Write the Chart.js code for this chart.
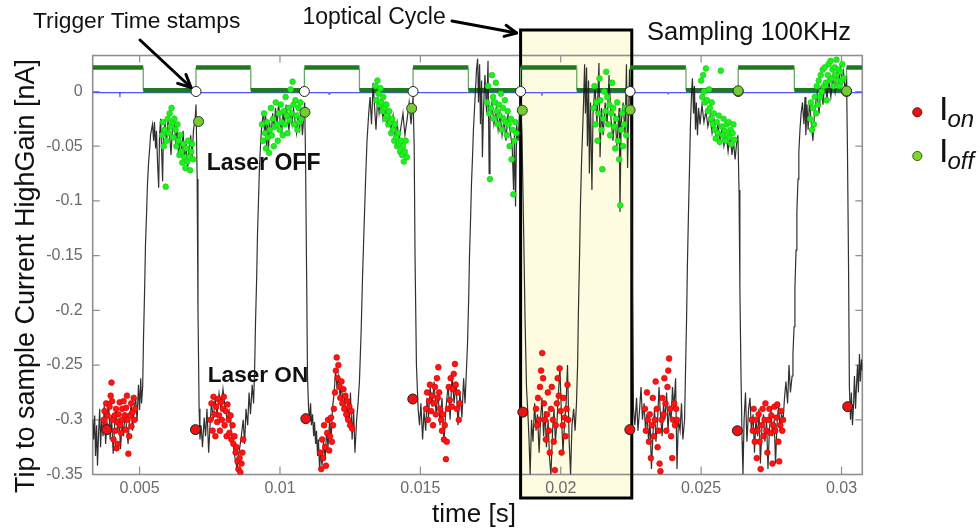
<!DOCTYPE html>
<html>
<head>
<meta charset="utf-8">
<title>Tip to sample current – laser on/off</title>
<script src="https://cdn.jsdelivr.net/npm/chart.js@4.4.0/dist/chart.umd.min.js"></script>
<style>
  html, body { margin: 0; padding: 0; background: #ffffff; }
  #wrap { width: 980px; height: 529px; position: relative; }
</style>
</head>
<body>
<div id="wrap"><canvas id="chart" width="980" height="529"></canvas></div>
<script>
// ---------------------------------------------------------------
// Data: time in seconds, current in nA
// ---------------------------------------------------------------

// Axis ranges and ticks
const xRange = [0.00333, 0.03074];
const yRange = [-0.35, 0.0329];
const xTicks = [0.005, 0.01, 0.015, 0.02, 0.025, 0.03];
const xTickLabels = ['0.005', '0.01', '0.015', '0.02', '0.025', '0.03'];
const yTicks = [0, -0.05, -0.1, -0.15, -0.2, -0.25, -0.3, -0.35];
const yTickLabels = ['0', '-0.05', '-0.1', '-0.15', '-0.2', '-0.25', '-0.3', '-0.35'];

// Tip-sample current, high-gain channel
const signalSamples = [
  [0.00333,-0.300],[0.00336,-0.318],[0.00340,-0.296],[0.00343,-0.333],[0.00347,-0.305],[0.00350,-0.342],[0.00354,-0.312],[0.00358,-0.290],
  [0.00361,-0.325],[0.00365,-0.301],[0.00370,-0.315],[0.00374,-0.287],[0.00379,-0.322],[0.00384,-0.300],[0.00390,-0.283],[0.00395,-0.318],
  [0.00400,-0.296],[0.00406,-0.331],[0.00411,-0.305],[0.00416,-0.289],[0.00422,-0.312],[0.00427,-0.298],[0.00432,-0.327],[0.00438,-0.302],
  [0.00443,-0.315],[0.00448,-0.293],[0.00454,-0.308],[0.00459,-0.322],[0.00464,-0.299],[0.00470,-0.286],[0.00475,-0.310],[0.00480,-0.292],
  [0.00486,-0.279],[0.00491,-0.301],[0.00496,-0.268],[0.00500,-0.291],[0.00504,-0.262],[0.00507,-0.285],
  [0.00511,-0.270],[0.00514,-0.225],[0.00518,-0.180],[0.00521,-0.140],[0.00525,-0.110],[0.00528,-0.085],[0.00532,-0.065],[0.00536,-0.052],
  [0.00539,-0.040],[0.00543,-0.034],[0.00546,-0.030],
  [0.00550,-0.045],[0.00553,-0.028],[0.00557,-0.052],[0.00560,-0.036],[0.00564,-0.065],[0.00568,-0.088],[0.00571,-0.040],[0.00575,-0.025],
  [0.00578,-0.050],[0.00582,-0.082],[0.00585,-0.035],[0.00591,-0.030],[0.00596,-0.047],[0.00601,-0.026],[0.00607,-0.040],[0.00612,-0.058],
  [0.00617,-0.033],[0.00623,-0.022],[0.00628,-0.045],[0.00634,-0.035],[0.00639,-0.060],[0.00644,-0.042],[0.00650,-0.055],[0.00655,-0.036],
  [0.00660,-0.062],[0.00666,-0.048],[0.00671,-0.070],[0.00676,-0.052],[0.00682,-0.040],[0.00687,-0.060],[0.00692,-0.035],[0.00698,-0.025],
  [0.00701,-0.012],
  [0.00705,-0.080],[0.00708,-0.200],[0.00712,-0.290],[0.00715,-0.318],
  [0.00719,-0.305],[0.00724,-0.325],[0.00730,-0.298],[0.00735,-0.315],[0.00740,-0.290],[0.00746,-0.330],[0.00751,-0.305],[0.00756,-0.283],
  [0.00762,-0.300],[0.00769,-0.281],[0.00776,-0.295],[0.00783,-0.276],[0.00790,-0.290],[0.00797,-0.272],[0.00804,-0.288],[0.00812,-0.300],
  [0.00819,-0.292],[0.00826,-0.310],[0.00833,-0.322],[0.00840,-0.335],[0.00847,-0.345],[0.00854,-0.330],[0.00861,-0.318],[0.00869,-0.300],
  [0.00874,-0.322],[0.00879,-0.290],[0.00885,-0.305],[0.00890,-0.275],[0.00895,-0.295],[0.00901,-0.268],[0.00906,-0.285],
  [0.00910,-0.250],[0.00913,-0.210],[0.00917,-0.170],[0.00920,-0.130],[0.00924,-0.095],[0.00927,-0.068],[0.00931,-0.048],[0.00934,-0.035],
  [0.00938,-0.025],[0.00942,-0.018],
  [0.00945,-0.040],[0.00949,-0.022],[0.00952,-0.050],[0.00956,-0.030],[0.00959,-0.055],[0.00963,-0.028],[0.00968,-0.042],[0.00974,-0.020],
  [0.00979,-0.035],[0.00984,-0.015],[0.00990,-0.030],[0.00995,-0.010],[0.01000,-0.025],[0.01006,-0.040],[0.01011,-0.018],[0.01016,-0.030],
  [0.01022,-0.012],[0.01027,-0.025],[0.01032,-0.035],[0.01038,-0.020],[0.01043,-0.030],[0.01048,-0.015],[0.01054,-0.028],[0.01059,-0.038],
  [0.01064,-0.022],[0.01070,-0.034],[0.01075,-0.018],[0.01080,-0.040],[0.01084,-0.025],[0.01088,-0.010],
  [0.01091,-0.060],[0.01095,-0.170],[0.01098,-0.260],[0.01102,-0.290],
  [0.01105,-0.300],[0.01109,-0.285],[0.01112,-0.305],[0.01116,-0.295],[0.01120,-0.315],[0.01123,-0.302],[0.01127,-0.322],[0.01130,-0.310],
  [0.01134,-0.333],[0.01137,-0.318],[0.01141,-0.345],[0.01145,-0.330],[0.01150,-0.342],[0.01155,-0.320],[0.01161,-0.335],[0.01166,-0.310],
  [0.01171,-0.325],[0.01177,-0.300],[0.01182,-0.318],[0.01187,-0.290],[0.01193,-0.275],[0.01198,-0.255],[0.01203,-0.270],[0.01209,-0.260],
  [0.01214,-0.280],[0.01219,-0.268],[0.01225,-0.290],[0.01230,-0.278],[0.01235,-0.300],[0.01241,-0.285],[0.01246,-0.305],[0.01251,-0.275],
  [0.01257,-0.318],[0.01262,-0.290],[0.01267,-0.330],[0.01273,-0.300],[0.01278,-0.285],
  [0.01283,-0.265],[0.01289,-0.220],[0.01294,-0.170],[0.01300,-0.120],[0.01305,-0.080],[0.01310,-0.045],[0.01316,-0.020],
  [0.01321,-0.005],[0.01326,-0.030],[0.01332,0.008],[0.01337,-0.015],[0.01342,-0.035],[0.01348,-0.005],[0.01353,-0.020],[0.01360,-0.008],
  [0.01367,-0.025],[0.01374,-0.012],[0.01381,-0.030],[0.01389,-0.018],[0.01396,-0.035],[0.01403,-0.022],[0.01410,-0.040],[0.01417,-0.028],
  [0.01424,-0.045],[0.01431,-0.032],[0.01438,-0.020],[0.01445,-0.040],[0.01453,-0.025],[0.01460,-0.010],[0.01467,-0.030],[0.01474,-0.005],
  [0.01478,-0.050],[0.01481,-0.150],[0.01486,-0.250],[0.01492,-0.290],
  [0.01497,-0.305],[0.01502,-0.285],[0.01508,-0.318],[0.01513,-0.292],[0.01519,-0.310],[0.01524,-0.280],[0.01529,-0.298],[0.01535,-0.270],
  [0.01542,-0.288],[0.01549,-0.265],[0.01556,-0.295],[0.01563,-0.275],[0.01570,-0.305],[0.01577,-0.280],[0.01584,-0.320],[0.01591,-0.290],
  [0.01599,-0.268],[0.01606,-0.300],[0.01613,-0.258],[0.01620,-0.285],[0.01627,-0.265],[0.01634,-0.305],[0.01641,-0.275],[0.01648,-0.298],
  [0.01654,-0.262],[0.01659,-0.285],[0.01664,-0.255],
  [0.01668,-0.230],[0.01672,-0.190],[0.01675,-0.150],[0.01679,-0.115],[0.01682,-0.085],[0.01686,-0.058],[0.01689,-0.035],[0.01693,-0.015],
  [0.01697,0.005],[0.01700,0.020],
  [0.01704,0.030],[0.01707,-0.010],[0.01711,0.025],[0.01714,-0.030],[0.01718,0.010],[0.01721,-0.060],[0.01725,-0.015],[0.01730,0.015],
  [0.01736,-0.020],[0.01741,0.028],[0.01745,-0.075],[0.01748,-0.025],[0.01755,-0.010],[0.01762,-0.030],[0.01770,-0.015],[0.01777,-0.035],
  [0.01784,-0.020],[0.01791,-0.040],[0.01798,-0.025],[0.01805,-0.045],[0.01812,-0.020],[0.01819,-0.035],[0.01827,-0.050],[0.01832,-0.090],
  [0.01835,-0.040],[0.01839,-0.105],[0.01843,-0.030],[0.01848,-0.045],[0.01853,-0.020],[0.01857,-0.010],
  [0.01862,-0.040],[0.01868,-0.130],[0.01873,-0.210],[0.01878,-0.270],[0.01884,-0.300],
  [0.01887,-0.318],[0.01891,-0.350],[0.01896,-0.300],[0.01901,-0.320],[0.01907,-0.285],[0.01912,-0.310],[0.01917,-0.295],[0.01923,-0.330],
  [0.01928,-0.300],[0.01933,-0.280],[0.01939,-0.315],[0.01944,-0.292],[0.01949,-0.325],[0.01955,-0.300],[0.01960,-0.335],[0.01965,-0.350],
  [0.01971,-0.310],[0.01976,-0.290],[0.01981,-0.320],[0.01987,-0.300],[0.01992,-0.275],[0.01997,-0.252],[0.02003,-0.300],[0.02008,-0.330],
  [0.02013,-0.305],[0.02019,-0.285],[0.02024,-0.250],[0.02030,-0.320],[0.02035,-0.350],[0.02040,-0.305],[0.02046,-0.290],[0.02051,-0.310],
  [0.02056,-0.285],
  [0.02060,-0.250],[0.02063,-0.200],[0.02067,-0.150],[0.02070,-0.105],[0.02074,-0.065],[0.02078,-0.035],[0.02081,-0.012],
  [0.02085,0.025],[0.02088,-0.020],[0.02092,0.022],[0.02095,-0.050],[0.02099,0.010],[0.02102,-0.075],[0.02106,-0.010],[0.02111,-0.090],
  [0.02115,-0.020],[0.02122,0.005],[0.02129,-0.030],[0.02136,0.026],[0.02140,-0.060],[0.02145,-0.015],[0.02151,-0.040],[0.02158,-0.010],
  [0.02165,-0.030],[0.02172,0.015],[0.02179,-0.025],[0.02186,-0.045],[0.02193,-0.020],[0.02200,-0.050],[0.02208,-0.015],[0.02211,-0.110],
  [0.02215,-0.030],[0.02222,-0.010],[0.02229,-0.040],[0.02234,0.025],[0.02238,-0.070],[0.02241,-0.030],[0.02245,0.020],[0.02248,-0.010],
  [0.02252,-0.080],[0.02256,-0.200],[0.02259,-0.290],
  [0.02264,-0.305],[0.02270,-0.280],[0.02275,-0.310],[0.02281,-0.290],[0.02286,-0.270],[0.02291,-0.300],[0.02297,-0.285],[0.02302,-0.310],
  [0.02307,-0.295],[0.02313,-0.320],[0.02318,-0.300],[0.02323,-0.345],[0.02329,-0.310],[0.02334,-0.290],[0.02339,-0.320],[0.02345,-0.300],
  [0.02350,-0.270],[0.02355,-0.295],[0.02361,-0.315],[0.02366,-0.285],[0.02371,-0.300],[0.02377,-0.275],[0.02382,-0.310],[0.02387,-0.290],
  [0.02393,-0.300],[0.02398,-0.270],[0.02403,-0.290],[0.02409,-0.262],[0.02414,-0.345],[0.02419,-0.300],[0.02425,-0.310],[0.02430,-0.285],
  [0.02435,-0.318],[0.02441,-0.300],
  [0.02444,-0.260],[0.02448,-0.210],[0.02451,-0.160],[0.02455,-0.110],[0.02459,-0.065],[0.02462,-0.030],[0.02466,0.000],
  [0.02469,0.012],[0.02473,-0.020],[0.02476,0.005],[0.02480,-0.035],[0.02483,-0.010],[0.02487,-0.040],[0.02491,-0.015],[0.02496,-0.030],
  [0.02503,-0.012],[0.02510,-0.028],[0.02517,-0.018],[0.02524,-0.032],[0.02532,-0.022],[0.02539,-0.038],[0.02546,-0.026],[0.02553,-0.042],
  [0.02560,-0.030],[0.02567,-0.046],[0.02574,-0.034],[0.02581,-0.050],[0.02589,-0.038],[0.02596,-0.055],[0.02603,-0.040],[0.02610,-0.058],
  [0.02615,-0.045],[0.02621,-0.062],[0.02626,-0.048],[0.02631,-0.040],
  [0.02635,-0.090],[0.02638,-0.180],[0.02642,-0.260],[0.02646,-0.320],[0.02649,-0.350],
  [0.02653,-0.300],[0.02658,-0.275],[0.02663,-0.320],[0.02669,-0.290],[0.02674,-0.280],[0.02679,-0.310],[0.02685,-0.295],[0.02690,-0.330],
  [0.02695,-0.300],[0.02701,-0.315],[0.02706,-0.290],[0.02711,-0.340],[0.02717,-0.305],[0.02722,-0.295],[0.02727,-0.320],[0.02733,-0.300],
  [0.02738,-0.345],[0.02743,-0.310],[0.02749,-0.290],[0.02754,-0.315],[0.02760,-0.300],[0.02765,-0.340],[0.02770,-0.305],[0.02776,-0.285],
  [0.02781,-0.310],[0.02786,-0.295],[0.02792,-0.300],[0.02797,-0.280],[0.02802,-0.265],[0.02808,-0.285],[0.02813,-0.250],[0.02818,-0.275],
  [0.02824,-0.260],[0.02827,-0.240],
  [0.02831,-0.215],[0.02834,-0.180],[0.02838,-0.145],[0.02841,-0.110],[0.02845,-0.080],[0.02848,-0.055],[0.02852,-0.035],[0.02856,-0.020],
  [0.02861,-0.010],
  [0.02866,-0.030],[0.02870,-0.005],[0.02873,-0.040],[0.02877,-0.012],[0.02881,-0.035],[0.02886,-0.008],[0.02891,-0.025],[0.02898,-0.045],
  [0.02905,-0.015],[0.02913,-0.002],[0.02920,-0.020],[0.02927,0.005],[0.02934,-0.012],[0.02941,0.010],[0.02948,-0.008],[0.02955,0.012],
  [0.02962,-0.005],[0.02970,0.015],[0.02977,0.000],[0.02984,0.020],[0.02991,0.005],[0.02996,0.025],[0.03002,0.008],[0.03007,0.018],
  [0.03012,0.002],[0.03018,0.010],
  [0.03021,-0.050],[0.03025,-0.160],[0.03028,-0.270],
  [0.03032,-0.300],[0.03035,-0.275],[0.03039,-0.305],[0.03043,-0.285],[0.03046,-0.260],[0.03050,-0.290],[0.03053,-0.270],[0.03057,-0.250],
  [0.03060,-0.275],[0.03064,-0.240],[0.03067,-0.265],[0.03071,-0.245],[0.03074,-0.255]
];

// Samples taken while the laser is on (I_on)
const onSamples = [
  [0.00372,-0.300],[0.00375,-0.292],[0.00379,-0.305],[0.00381,-0.285],[0.00386,-0.296],[0.00390,-0.310],[0.00393,-0.288],[0.00397,-0.278],
  [0.00400,-0.266],[0.00402,-0.283],[0.00404,-0.300],[0.00407,-0.318],[0.00411,-0.296],[0.00413,-0.310],[0.00416,-0.290],[0.00418,-0.326],
  [0.00420,-0.302],[0.00422,-0.322],[0.00425,-0.295],[0.00429,-0.284],[0.00431,-0.305],[0.00434,-0.312],[0.00438,-0.290],[0.00439,-0.300],
  [0.00443,-0.283],[0.00447,-0.296],[0.00450,-0.309],[0.00452,-0.289],[0.00455,-0.278],[0.00457,-0.300],[0.00460,-0.331],[0.00463,-0.315],
  [0.00466,-0.296],[0.00470,-0.285],[0.00471,-0.306],[0.00475,-0.293],[0.00479,-0.280],[0.00482,-0.300],[0.00484,-0.290],

  [0.00752,-0.300],[0.00756,-0.285],[0.00760,-0.310],[0.00763,-0.279],[0.00766,-0.295],[0.00770,-0.315],[0.00773,-0.288],[0.00776,-0.302],
  [0.00780,-0.281],[0.00783,-0.296],[0.00786,-0.310],[0.00790,-0.284],[0.00793,-0.300],[0.00797,-0.290],[0.00800,-0.279],[0.00803,-0.305],
  [0.00807,-0.292],[0.00810,-0.315],[0.00813,-0.286],[0.00817,-0.300],[0.00820,-0.312],[0.00824,-0.296],[0.00827,-0.318],[0.00831,-0.305],
  [0.00834,-0.322],[0.00838,-0.315],[0.00842,-0.330],[0.00845,-0.325],[0.00849,-0.338],[0.00852,-0.345],[0.00856,-0.335],[0.00859,-0.348],
  [0.00863,-0.340],[0.00866,-0.330],[0.00869,-0.318],

  [0.01144,-0.330],[0.01147,-0.345],[0.01150,-0.318],[0.01154,-0.335],[0.01157,-0.305],[0.01161,-0.325],[0.01164,-0.342],[0.01168,-0.312],
  [0.01171,-0.300],[0.01175,-0.328],[0.01178,-0.315],[0.01182,-0.298],[0.01185,-0.320],[0.01189,-0.305],[0.01192,-0.290],[0.01196,-0.275],
  [0.01199,-0.255],[0.01202,-0.243],[0.01205,-0.262],[0.01208,-0.250],[0.01212,-0.270],[0.01215,-0.280],[0.01219,-0.265],[0.01222,-0.285],
  [0.01226,-0.272],[0.01229,-0.290],[0.01233,-0.278],[0.01236,-0.295],[0.01240,-0.283],[0.01243,-0.300],[0.01247,-0.288],[0.01250,-0.305],
  [0.01254,-0.292],[0.01257,-0.308],

  [0.01520,-0.290],[0.01524,-0.275],[0.01527,-0.300],[0.01531,-0.283],[0.01534,-0.268],[0.01538,-0.292],[0.01541,-0.278],[0.01545,-0.305],
  [0.01548,-0.285],[0.01552,-0.270],[0.01555,-0.295],[0.01559,-0.262],[0.01562,-0.280],[0.01564,-0.252],[0.01567,-0.275],[0.01570,-0.290],
  [0.01574,-0.300],[0.01577,-0.310],[0.01580,-0.295],[0.01584,-0.318],[0.01587,-0.305],[0.01591,-0.336],[0.01594,-0.320],[0.01598,-0.290],
  [0.01601,-0.270],[0.01605,-0.282],[0.01608,-0.262],[0.01612,-0.288],[0.01615,-0.272],[0.01619,-0.258],[0.01623,-0.249],[0.01626,-0.268],
  [0.01630,-0.290],[0.01633,-0.275],[0.01637,-0.300],[0.01640,-0.285],

  [0.01912,-0.290],[0.01916,-0.305],[0.01919,-0.280],[0.01923,-0.300],[0.01926,-0.270],[0.01930,-0.255],[0.01934,-0.239],[0.01937,-0.262],
  [0.01940,-0.285],[0.01944,-0.300],[0.01947,-0.318],[0.01951,-0.295],[0.01954,-0.275],[0.01958,-0.310],[0.01961,-0.330],[0.01965,-0.290],
  [0.01968,-0.270],[0.01972,-0.300],[0.01975,-0.320],[0.01979,-0.346],[0.01982,-0.305],[0.01986,-0.285],[0.01989,-0.262],[0.01993,-0.278],
  [0.01996,-0.253],[0.02000,-0.292],[0.02003,-0.330],[0.02007,-0.305],[0.02010,-0.280],[0.02014,-0.298],[0.02017,-0.315],[0.02021,-0.290],
  [0.02024,-0.268],[0.02027,-0.300],

  [0.02300,-0.290],[0.02303,-0.310],[0.02307,-0.275],[0.02310,-0.300],[0.02314,-0.320],[0.02317,-0.295],[0.02321,-0.335],[0.02324,-0.305],
  [0.02328,-0.280],[0.02331,-0.315],[0.02335,-0.300],[0.02338,-0.265],[0.02342,-0.290],[0.02345,-0.325],[0.02349,-0.310],[0.02352,-0.340],
  [0.02355,-0.347],[0.02359,-0.300],[0.02362,-0.280],[0.02366,-0.295],[0.02369,-0.262],[0.02373,-0.285],[0.02376,-0.310],[0.02380,-0.270],
  [0.02383,-0.255],[0.02386,-0.244],[0.02390,-0.290],[0.02393,-0.315],[0.02397,-0.335],[0.02400,-0.300],[0.02404,-0.285],[0.02407,-0.305],
  [0.02411,-0.290],[0.02414,-0.300],

  [0.02680,-0.300],[0.02684,-0.310],[0.02687,-0.290],[0.02691,-0.320],[0.02694,-0.300],[0.02698,-0.335],[0.02701,-0.310],[0.02705,-0.295],
  [0.02708,-0.320],[0.02712,-0.345],[0.02715,-0.305],[0.02719,-0.290],[0.02722,-0.315],[0.02726,-0.300],[0.02729,-0.285],[0.02733,-0.310],
  [0.02736,-0.330],[0.02740,-0.300],[0.02743,-0.290],[0.02747,-0.312],[0.02750,-0.296],[0.02754,-0.340],[0.02757,-0.305],[0.02761,-0.288],
  [0.02764,-0.310],[0.02768,-0.298],[0.02771,-0.286],[0.02775,-0.320],[0.02778,-0.338],[0.02782,-0.305],[0.02785,-0.292],[0.02789,-0.310],
  [0.02792,-0.300]
];

// Samples taken while the laser is off (I_off)
const offSamples = [
  [0.00580,-0.040],[0.00583,-0.028],[0.00586,-0.050],[0.00589,-0.035],[0.00593,-0.087],[0.00596,-0.045],[0.00600,-0.025],[0.00603,-0.038],
  [0.00607,-0.020],[0.00610,-0.032],[0.00614,-0.015],[0.00617,-0.028],[0.00621,-0.042],[0.00624,-0.025],[0.00628,-0.035],[0.00631,-0.050],
  [0.00635,-0.030],[0.00638,-0.045],[0.00642,-0.058],[0.00645,-0.040],[0.00649,-0.055],[0.00652,-0.065],[0.00656,-0.048],[0.00659,-0.060],
  [0.00663,-0.070],[0.00666,-0.052],[0.00670,-0.064],[0.00673,-0.045],[0.00677,-0.060],[0.00680,-0.072],[0.00684,-0.055],[0.00687,-0.048],
  [0.00691,-0.062],

  [0.00936,-0.030],[0.00940,-0.045],[0.00943,-0.020],[0.00947,-0.038],[0.00950,-0.052],[0.00954,-0.028],[0.00957,-0.042],[0.00961,-0.056],
  [0.00964,-0.035],[0.00968,-0.015],[0.00971,-0.040],[0.00975,-0.025],[0.00978,-0.050],[0.00982,-0.032],[0.00985,-0.010],[0.00989,-0.030],
  [0.00992,-0.045],[0.00996,-0.020],[0.00999,-0.035],[0.01003,-0.012],[0.01006,-0.028],[0.01010,-0.040],[0.01013,-0.018],[0.01017,-0.030],
  [0.01020,-0.005],[0.01024,-0.022],[0.01027,-0.038],[0.01031,-0.015],[0.01034,-0.026],[0.01038,0.002],[0.01041,-0.020],[0.01045,0.009],
  [0.01048,-0.012],[0.01052,-0.030],[0.01055,-0.008],[0.01059,-0.022],[0.01062,-0.035],[0.01066,-0.015],[0.01069,-0.028],[0.01073,-0.010],
  [0.01076,-0.025],

  [0.01340,0.005],[0.01344,-0.008],[0.01347,0.010],[0.01351,-0.002],[0.01354,-0.012],[0.01358,0.003],[0.01361,-0.010],[0.01365,-0.018],
  [0.01368,-0.005],[0.01372,-0.015],[0.01375,-0.025],[0.01379,-0.012],[0.01382,-0.022],[0.01386,-0.030],[0.01389,-0.018],[0.01393,-0.028],
  [0.01396,-0.038],[0.01400,-0.025],[0.01403,-0.035],[0.01407,-0.045],[0.01410,-0.030],[0.01414,-0.042],[0.01417,-0.050],[0.01421,-0.038],
  [0.01424,-0.048],[0.01428,-0.055],[0.01431,-0.045],[0.01435,-0.058],[0.01438,-0.050],[0.01441,-0.064],[0.01445,-0.055],[0.01448,-0.045],
  [0.01452,-0.060],

  [0.01738,-0.010],[0.01741,0.005],[0.01745,-0.020],[0.01748,-0.080],[0.01752,-0.015],[0.01755,0.015],[0.01759,-0.005],[0.01762,-0.025],
  [0.01766,-0.010],[0.01769,0.008],[0.01773,-0.018],[0.01776,-0.030],[0.01780,-0.012],[0.01783,-0.022],[0.01787,-0.002],[0.01790,-0.035],
  [0.01794,-0.015],[0.01797,-0.025],[0.01801,-0.008],[0.01804,-0.028],[0.01808,-0.040],[0.01811,-0.018],[0.01815,-0.030],[0.01818,-0.050],
  [0.01822,-0.025],[0.01825,-0.062],[0.01829,-0.035],[0.01831,-0.094],[0.01835,-0.045],[0.01838,-0.028],[0.01842,-0.038],

  [0.02117,-0.015],[0.02120,0.005],[0.02124,-0.030],[0.02127,-0.010],[0.02131,-0.045],[0.02134,-0.020],[0.02138,0.012],[0.02141,-0.008],
  [0.02145,-0.035],[0.02148,-0.071],[0.02152,-0.025],[0.02155,0.000],[0.02159,-0.018],[0.02162,0.018],[0.02166,-0.005],[0.02169,-0.030],
  [0.02173,-0.012],[0.02176,-0.040],[0.02180,-0.020],[0.02183,0.008],[0.02187,-0.015],[0.02190,-0.032],[0.02194,-0.052],[0.02197,-0.025],
  [0.02201,-0.010],[0.02204,-0.045],[0.02208,-0.062],[0.02212,-0.104],[0.02215,-0.035],[0.02219,-0.020],[0.02222,-0.050],[0.02226,-0.030],
  [0.02229,-0.015],[0.02233,-0.040],

  [0.02500,0.010],[0.02504,-0.005],[0.02507,0.015],[0.02511,0.000],[0.02514,-0.010],[0.02517,0.021],[0.02521,-0.008],[0.02524,-0.018],
  [0.02528,0.002],[0.02531,-0.015],[0.02535,-0.025],[0.02538,-0.010],[0.02542,-0.030],[0.02545,-0.020],[0.02549,-0.035],[0.02552,-0.043],
  [0.02556,-0.028],[0.02559,-0.038],[0.02563,-0.022],[0.02566,-0.046],[0.02570,0.019],[0.02573,-0.032],[0.02577,-0.040],[0.02580,-0.025],
  [0.02584,-0.036],[0.02587,-0.045],[0.02591,-0.030],[0.02594,-0.040],[0.02598,-0.028],[0.02601,-0.042],[0.02605,-0.035],[0.02608,-0.048],
  [0.02612,-0.038],[0.02615,-0.030],[0.02619,-0.044],

  [0.02888,-0.025],[0.02891,-0.010],[0.02895,-0.035],[0.02898,-0.015],[0.02902,-0.030],[0.02905,-0.005],[0.02909,-0.020],[0.02912,0.005],
  [0.02916,-0.012],[0.02919,0.010],[0.02923,-0.005],[0.02926,0.015],[0.02930,0.000],[0.02933,0.020],[0.02937,0.005],[0.02940,0.022],
  [0.02944,0.008],[0.02947,-0.008],[0.02951,0.015],[0.02954,0.025],[0.02958,0.010],[0.02961,0.028],[0.02965,0.012],[0.02968,0.020],
  [0.02972,0.005],[0.02975,0.022],[0.02979,0.015],[0.02982,0.029],[0.02986,0.010],[0.02989,0.020],[0.02993,0.005],[0.02996,0.018],
  [0.03000,0.010],[0.03003,0.025],[0.03007,0.012]
];

// Laser gate (optical chopper reference) levels, nA-equivalent
const gateSamples = [
  [0.00333,0.0219],[0.00513,0.0219],[0.00513,0.0012],[0.00701,0.0012],[0.00701,0.0219],[0.00896,0.0219],
  [0.00896,0.0012],[0.01087,0.0012],[0.01087,0.0219],[0.01283,0.0219],[0.01283,0.0012],[0.01474,0.0012],
  [0.01474,0.0219],[0.01671,0.0219],[0.01671,0.0012],[0.01857,0.0012],[0.01857,0.0219],[0.02057,0.0219],
  [0.02057,0.0012],[0.02247,0.0012],[0.02247,0.0219],[0.02446,0.0219],[0.02446,0.0012],[0.02632,0.0012],
  [0.02632,0.0219],[0.02832,0.0219],[0.02832,0.0012],[0.03018,0.0012],[0.03018,0.0219],[0.03074,0.0219]
];

// Zero reference channel
const baselineSamples = [
  [0.00333,-0.0011],[0.00428,-0.0011],[0.00430,-0.0026],[0.00432,-0.0011],[0.01172,-0.0011],[0.01175,-0.0024],
  [0.01178,-0.0011],[0.01930,-0.0011],[0.01933,-0.0023],[0.01936,-0.0011],[0.02380,-0.0011],[0.02383,-0.0022],
  [0.02386,-0.0011],[0.03074,-0.0011]
];

// Trigger time stamps (rising edge of the gate)
const triggerTimes = [0.00701, 0.01087, 0.01474, 0.01857, 0.02247, 0.02632, 0.03018];
const triggerCurrent = [0, 0, 0, 0, 0, 0, 0];

// Per-cycle averaged currents
const ionTimes = [0.00383, 0.00699, 0.01092, 0.01473, 0.01865, 0.02246, 0.02629, 0.03022];
const ionCurrent = [-0.309, -0.309, -0.299, -0.281, -0.293, -0.309, -0.310, -0.288];
const ioffTimes = [0.00710, 0.01089, 0.01469, 0.01863, 0.02247, 0.02632, 0.03018];
const ioffCurrent = [-0.0274, -0.019, -0.0154, -0.0172, -0.0169, 0.0007, 0.0005];

// One optical cycle highlighted
const cycleWindow = [0.01857, 0.02253];

// ---------------------------------------------------------------
// Helpers
// ---------------------------------------------------------------
const pairsToXY = arr => arr.map(([x, y]) => ({ x, y }));
const zipXY = (xs, ys) => xs.map((x, i) => ({ x, y: ys[i] }));

const FONT = '"Liberation Sans", Arial, Helvetica, sans-serif';
const BOX_TOP = 30;
const BOX_BOTTOM = 498;

function drawArrow(ctx, x1, y1, x2, y2, head) {
  ctx.beginPath();
  ctx.moveTo(x1, y1);
  ctx.lineTo(x2, y2);
  ctx.stroke();
  const a = Math.atan2(y2 - y1, x2 - x1);
  ctx.beginPath();
  ctx.moveTo(x2 - head * Math.cos(a - 0.45), y2 - head * Math.sin(a - 0.45));
  ctx.lineTo(x2, y2);
  ctx.lineTo(x2 - head * Math.cos(a + 0.45), y2 - head * Math.sin(a + 0.45));
  ctx.stroke();
}

function dot(ctx, x, y, r, fill, stroke) {
  ctx.beginPath();
  ctx.arc(x, y, r, 0, Math.PI * 2);
  ctx.fillStyle = fill;
  ctx.fill();
  ctx.lineWidth = 0.9;
  ctx.strokeStyle = stroke;
  ctx.stroke();
}

// Frame, inward ticks, highlighted cycle, annotations and legend
const decorations = {
  id: 'decorations',
  beforeDraw(chart) {
    const { ctx, scales: { x: xs } } = chart;
    ctx.save();
    ctx.fillStyle = '#ffffff';
    ctx.fillRect(0, 0, chart.width, chart.height);
    const bx0 = xs.getPixelForValue(cycleWindow[0]);
    const bx1 = xs.getPixelForValue(cycleWindow[1]);
    ctx.fillStyle = '#fdfbe0';
    ctx.fillRect(bx0, BOX_TOP, bx1 - bx0, BOX_BOTTOM - BOX_TOP);
    ctx.restore();
  },
  beforeDatasetsDraw(chart) {
    const { ctx, chartArea: a, scales: { x: xs, y: ys } } = chart;
    ctx.save();
    ctx.strokeStyle = '#8f8f8f';
    ctx.lineWidth = 1.6;
    ctx.strokeRect(a.left, a.top, a.right - a.left, a.bottom - a.top);
    ctx.lineWidth = 1.2;
    ctx.beginPath();
    xTicks.forEach(v => {
      const p = xs.getPixelForValue(v);
      ctx.moveTo(p, a.bottom); ctx.lineTo(p, a.bottom - 8);
      ctx.moveTo(p, a.top); ctx.lineTo(p, a.top + 7);
    });
    yTicks.forEach(v => {
      const p = ys.getPixelForValue(v);
      ctx.moveTo(a.left, p); ctx.lineTo(a.left + 7, p);
      ctx.moveTo(a.right, p); ctx.lineTo(a.right - 7, p);
    });
    ctx.stroke();

    const bx0 = xs.getPixelForValue(cycleWindow[0]);
    const bx1 = xs.getPixelForValue(cycleWindow[1]);
    ctx.strokeStyle = '#000000';
    ctx.lineWidth = 3;
    ctx.strokeRect(bx0, BOX_TOP, bx1 - bx0, BOX_BOTTOM - BOX_TOP);
    ctx.restore();
  },
  afterDraw(chart) {
    const { ctx, scales: { x: xs, y: ys } } = chart;
    ctx.save();
    ctx.textAlign = 'left';
    ctx.textBaseline = 'alphabetic';
    ctx.fillStyle = '#111111';

    // Axis titles
    ctx.font = '26px ' + FONT;
    ctx.textAlign = 'center';
    ctx.fillText('time [s]', 474, 521.5);
    ctx.save();
    ctx.translate(33.5, 276);
    ctx.rotate(-Math.PI / 2);
    ctx.font = '27px ' + FONT;
    ctx.fillText('Tip to sample Current HighGain [nA]', 0, 0);
    ctx.restore();

    // Annotations
    ctx.textAlign = 'left';
    ctx.font = '22.8px ' + FONT;
    ctx.fillText('Trigger Time stamps', 33, 28.3);
    ctx.font = '23px ' + FONT;
    ctx.fillText('1optical Cycle', 302.5, 23.5);
    ctx.font = '25.5px ' + FONT;
    ctx.fillText('Sampling 100KHz', 647, 40);
    ctx.font = 'bold 23px ' + FONT;
    ctx.fillText('Laser OFF', 206.7, 170);
    ctx.font = 'bold 22.6px ' + FONT;
    ctx.fillText('Laser ON', 207.8, 382.3);

    // Arrows
    ctx.strokeStyle = '#000000';
    ctx.lineWidth = 3;
    ctx.lineCap = 'round';
    ctx.lineJoin = 'round';
    const tx = xs.getPixelForValue(triggerTimes[0]);
    const ty = ys.getPixelForValue(triggerCurrent[0]);
    drawArrow(ctx, 140, 40, tx - 5, ty - 4, 14);
    const bx0 = xs.getPixelForValue(cycleWindow[0]);
    drawArrow(ctx, 452, 21, bx0 - 4, 33, 13);

    // Legend
    dot(ctx, 917.3, 112.3, 4.6, '#e51414', '#5a0c0c');
    dot(ctx, 917.3, 156, 4.6, '#7ed62c', '#2d4d12');
    ctx.fillStyle = '#111111';
    ctx.font = '34px ' + FONT;
    ctx.fillText('I', 939, 119.5);
    ctx.fillText('I', 939, 162);
    ctx.font = 'italic 24px ' + FONT;
    ctx.fillText('on', 947.5, 127);
    ctx.fillText('off', 947.5, 169);
    ctx.restore();
  }
};

// ---------------------------------------------------------------
// Chart
// ---------------------------------------------------------------
new Chart(document.getElementById('chart'), {
  type: 'line',
  data: {
    datasets: [
      {
        label: 'I_on (cycle)',
        data: zipXY(ionTimes, ionCurrent),
        showLine: false,
        pointRadius: 5, pointBackgroundColor: '#ee1212', pointBorderColor: '#222222', pointBorderWidth: 1,
        order: 0
      },
      {
        label: 'I_off (cycle)',
        data: zipXY(ioffTimes, ioffCurrent),
        showLine: false,
        pointRadius: 5, pointBackgroundColor: '#74cc30', pointBorderColor: '#2f3a2a', pointBorderWidth: 1,
        order: 1
      },
      {
        label: 'Trigger time stamps',
        data: zipXY(triggerTimes, triggerCurrent),
        showLine: false,
        pointRadius: 5, pointBackgroundColor: '#ffffff', pointBorderColor: '#222222', pointBorderWidth: 1,
        order: 2
      },
      {
        label: 'I_on samples',
        data: pairsToXY(onSamples),
        showLine: false,
        pointRadius: 2.9, pointBackgroundColor: '#ff1414', pointBorderColor: '#d00000', pointBorderWidth: 0.6,
        order: 3
      },
      {
        label: 'I_off samples',
        data: pairsToXY(offSamples),
        showLine: false,
        pointRadius: 2.9, pointBackgroundColor: '#1ef01e', pointBorderColor: '#16c816', pointBorderWidth: 0.6,
        order: 4
      },
      {
        label: 'Tip current',
        data: pairsToXY(signalSamples),
        borderColor: 'rgba(25,25,25,0.9)', borderWidth: 1.2,
        pointRadius: 0, tension: 0,
        order: 5
      },
      {
        label: 'Laser gate',
        data: pairsToXY(gateSamples),
        borderColor: '#1f7a1f', borderWidth: 4.5,
        pointRadius: 0, tension: 0,
        segment: {
          borderWidth: c => (c.p0.parsed.x === c.p1.parsed.x ? 1.3 : 4.5),
          borderColor: c => (c.p0.parsed.x === c.p1.parsed.x ? '#6aa86a' : '#1f7a1f')
        },
        order: 6
      },
      {
        label: 'Zero reference',
        data: pairsToXY(baselineSamples),
        borderColor: '#4a56ff', borderWidth: 1.2,
        pointRadius: 0, tension: 0,
        order: 7
      }
    ]
  },
  options: {
    responsive: false,
    animation: false,
    devicePixelRatio: 1,
    events: [],
    layout: { padding: { left: 0, top: 55.5, right: 117.7, bottom: 0 } },
    plugins: {
      legend: { display: false },
      tooltip: { enabled: false },
      title: { display: false }
    },
    scales: {
      x: {
        type: 'linear',
        min: xRange[0], max: xRange[1],
        grid: { display: false, drawTicks: false },
        border: { display: false },
        afterBuildTicks: s => { s.ticks = xTicks.map(v => ({ value: v })); },
        afterFit: s => { s.height = 54.5; },
        ticks: {
          callback: (v, i) => xTickLabels[i],
          color: '#6a6a6a',
          font: { family: FONT, size: 16 },
          padding: 4,
          maxRotation: 0,
          autoSkip: false
        }
      },
      y: {
        type: 'linear',
        min: yRange[0], max: yRange[1],
        grid: { display: false, drawTicks: false },
        border: { display: false },
        afterBuildTicks: s => { s.ticks = yTicks.map(v => ({ value: v })); },
        afterFit: s => { s.width = 92.7; },
        ticks: {
          callback: (v, i) => yTickLabels[i],
          color: '#6a6a6a',
          font: { family: FONT, size: 16 },
          padding: 10,
          autoSkip: false
        }
      }
    }
  },
  plugins: [decorations]
});
</script>
</body>
</html>
